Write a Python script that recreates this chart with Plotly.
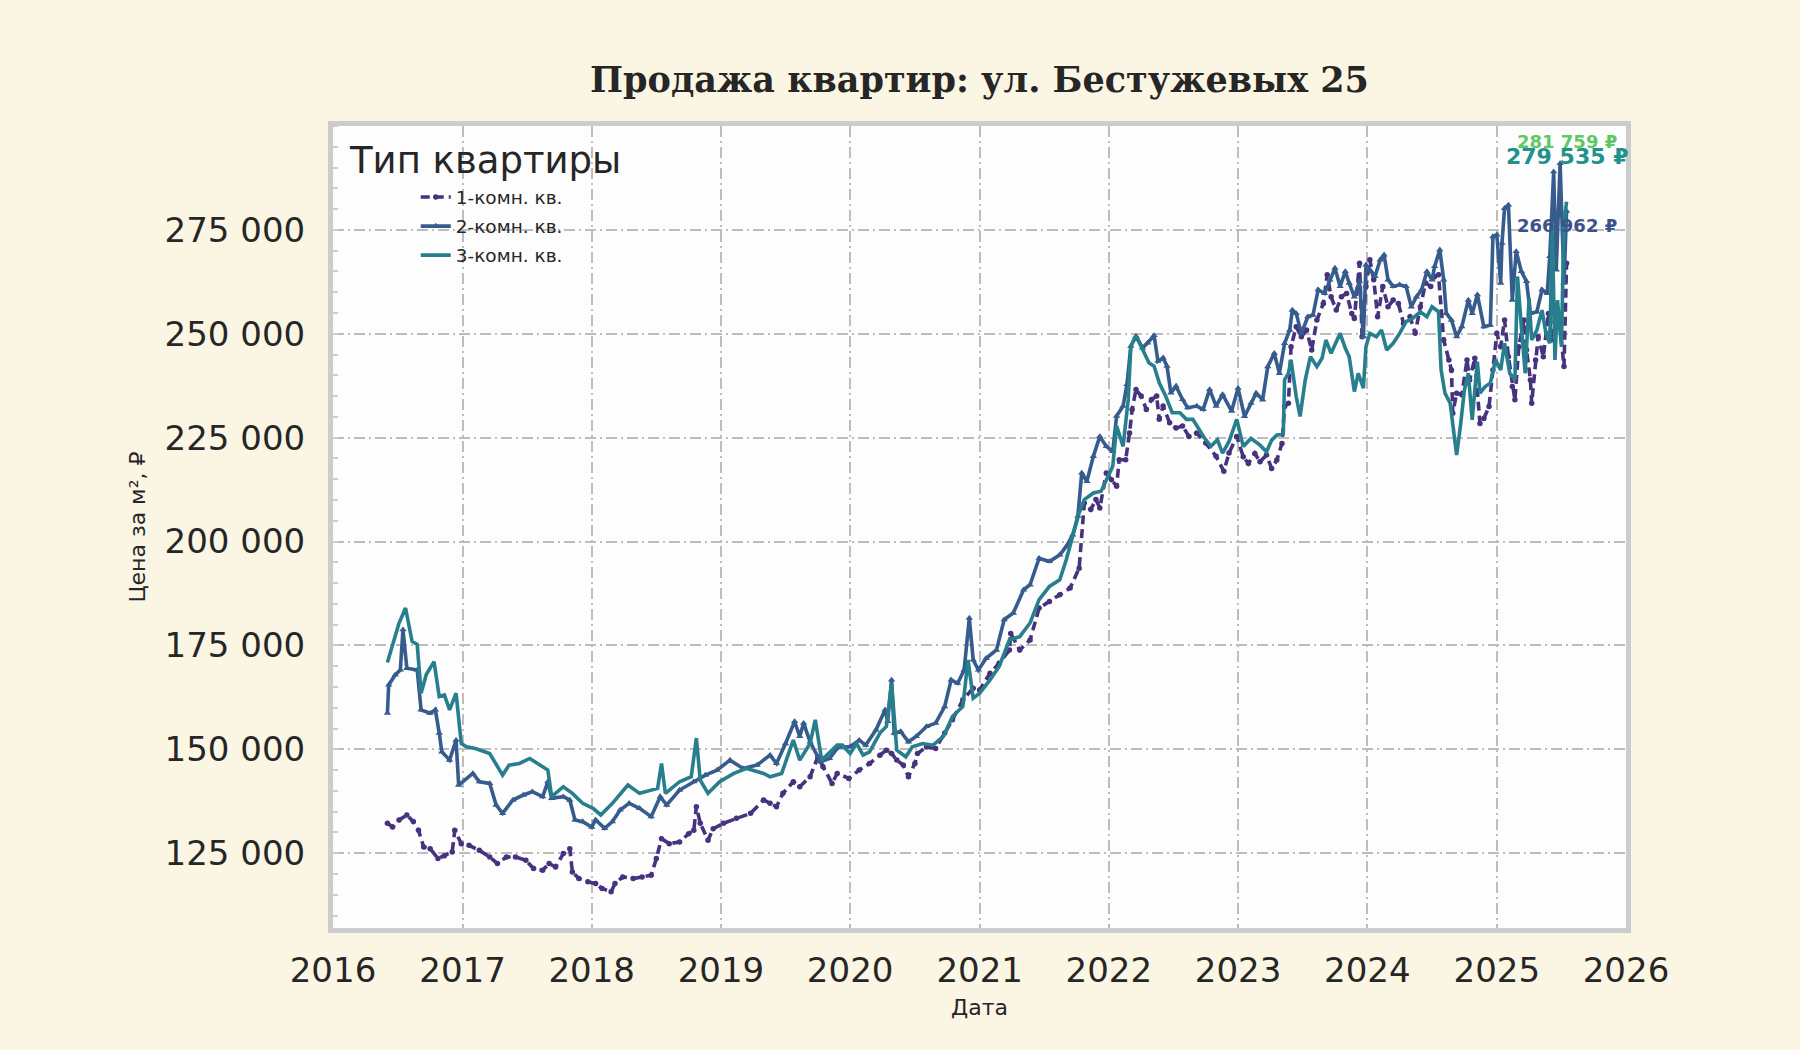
import pandas as pd
import plotly.graph_objects as go

# ---------------- data ----------------
series_names = ["1-комн. кв.", "2-комн. кв.", "3-комн. кв."]

years_1 = [2016.42, 2016.46, 2016.51, 2016.57, 2016.62, 2016.66, 2016.70, 2016.75, 2016.81, 2016.86,
           2016.92, 2016.94, 2016.99, 2017.05, 2017.13, 2017.21, 2017.27, 2017.34, 2017.41, 2017.49,
           2017.55, 2017.62, 2017.67, 2017.72, 2017.78, 2017.83, 2017.85, 2017.90, 2017.97, 2018.03,
           2018.08, 2018.15, 2018.18, 2018.24, 2018.32, 2018.39, 2018.46, 2018.50, 2018.54, 2018.60,
           2018.68, 2018.75, 2018.79, 2018.81, 2018.84, 2018.90, 2018.94, 2019.02, 2019.12, 2019.23,
           2019.33, 2019.38, 2019.43, 2019.48, 2019.56, 2019.61, 2019.69, 2019.75, 2019.79, 2019.86,
           2019.90, 2019.99, 2020.07, 2020.15, 2020.23, 2020.28, 2020.32, 2020.36, 2020.41, 2020.45,
           2020.50, 2020.52, 2020.59, 2020.66, 2020.73, 2020.79, 2020.87, 2020.95, 2021.00, 2021.08,
           2021.15, 2021.23, 2021.24, 2021.31, 2021.39, 2021.46, 2021.54, 2021.62, 2021.70, 2021.77,
           2021.81, 2021.86, 2021.90, 2021.93, 2021.98, 2022.02, 2022.06, 2022.08, 2022.13, 2022.16,
           2022.18, 2022.21, 2022.25, 2022.29, 2022.33, 2022.37, 2022.39, 2022.42, 2022.47, 2022.52,
           2022.57, 2022.62, 2022.68, 2022.75, 2022.83, 2022.89, 2022.93, 2022.99, 2023.04, 2023.08,
           2023.13, 2023.17, 2023.22, 2023.26, 2023.30, 2023.34, 2023.36, 2023.39, 2023.41, 2023.45,
           2023.49, 2023.53, 2023.57, 2023.61, 2023.66, 2023.69, 2023.72, 2023.76, 2023.80, 2023.84,
           2023.88, 2023.90, 2023.94, 2023.96, 2023.99, 2024.02, 2024.05, 2024.08, 2024.12, 2024.16,
           2024.20, 2024.24, 2024.28, 2024.33, 2024.37, 2024.41, 2024.45, 2024.49, 2024.52, 2024.55,
           2024.59, 2024.63, 2024.65, 2024.66, 2024.69, 2024.73, 2024.77, 2024.79, 2024.83, 2024.87,
           2024.90, 2024.94, 2024.97, 2025.00, 2025.03, 2025.06, 2025.09, 2025.12, 2025.14, 2025.17,
           2025.21, 2025.23, 2025.26, 2025.27, 2025.30, 2025.32, 2025.36, 2025.40, 2025.42, 2025.46,
           2025.49, 2025.52, 2025.54]
prices_1 = [132200, 131300, 133000, 134200, 132600, 130500, 126500, 126100, 123700, 124400,
            125300, 130500, 127300, 126900, 125700, 124100, 122500, 124100, 124100, 123300,
            121300, 120900, 122500, 121700, 124900, 126100, 120500, 118900, 118100, 117700,
            116500, 115700, 117700, 119300, 118900, 119300, 119700, 123700, 128500, 127300,
            127700, 129700, 130500, 136200, 132200, 128100, 130900, 132200, 133400, 134600,
            137800, 137000, 136200, 139400, 142200, 141000, 143400, 148200, 145800, 141800,
            144200, 143000, 145000, 146600, 148600, 149800, 149000, 147400, 146200, 143400,
            146600, 149000, 150600, 150200, 153900, 157100, 161900, 164700, 164300, 168300,
            170700, 173900, 177900, 173900, 176300, 184000, 185600, 187200, 188800, 193600,
            209300, 207700, 210100, 208100, 216500, 214900, 213300, 219700, 219700, 226100,
            231800, 236600, 235000, 231800, 234200, 235000, 229400, 232600, 228600, 227300,
            227800, 225300, 226100, 223700, 220500, 216900, 221300, 225300, 220400, 218800,
            221200, 219200, 220800, 217600, 219600, 223600, 232500, 233300, 246900, 251700,
            249300, 250900, 246100, 253300, 257300, 264200, 258900, 255700, 258900, 259700,
            254900, 253700, 267000, 249300, 261400, 267800, 263000, 254100, 261400, 256500,
            258100, 257300, 252500, 254100, 250100, 256500, 262200, 261400, 263800, 264200,
            248500, 243700, 241300, 230900, 235700, 235300, 243700, 238900, 244100, 228400,
            229600, 232500, 241300, 250100, 246900, 253300, 244500, 237300, 234100, 246900,
            253300, 246100, 238900, 233300, 243700, 249300, 244500, 254900, 248500, 255700,
            251700, 242100, 266962]

years_2 = [2016.42, 2016.43, 2016.48, 2016.52, 2016.54, 2016.57, 2016.65, 2016.68, 2016.75, 2016.79,
           2016.82, 2016.84, 2016.90, 2016.95, 2016.97, 2017.08, 2017.13, 2017.21, 2017.26, 2017.31,
           2017.39, 2017.47, 2017.54, 2017.62, 2017.66, 2017.69, 2017.78, 2017.83, 2017.87, 2017.93,
           2018.00, 2018.03, 2018.10, 2018.16, 2018.22, 2018.29, 2018.37, 2018.46, 2018.53, 2018.58,
           2018.68, 2018.79, 2018.88, 2018.97, 2019.07, 2019.17, 2019.28, 2019.38, 2019.43, 2019.50,
           2019.57, 2019.61, 2019.64, 2019.69, 2019.77, 2019.84, 2019.91, 2020.00, 2020.07, 2020.12,
           2020.20, 2020.27, 2020.29, 2020.32, 2020.34, 2020.39, 2020.45, 2020.51, 2020.59, 2020.66,
           2020.73, 2020.78, 2020.83, 2020.88, 2020.92, 2020.95, 2020.99, 2021.05, 2021.13, 2021.19,
           2021.26, 2021.34, 2021.39, 2021.46, 2021.54, 2021.62, 2021.67, 2021.72, 2021.76, 2021.79,
           2021.83, 2021.88, 2021.93, 2021.98, 2022.03, 2022.06, 2022.11, 2022.14, 2022.17, 2022.21,
           2022.26, 2022.30, 2022.35, 2022.38, 2022.42, 2022.45, 2022.48, 2022.52, 2022.57, 2022.61,
           2022.68, 2022.73, 2022.78, 2022.83, 2022.88, 2022.95, 2023.00, 2023.05, 2023.10, 2023.14,
           2023.19, 2023.23, 2023.28, 2023.32, 2023.36, 2023.40, 2023.42, 2023.45, 2023.49, 2023.54,
           2023.58, 2023.62, 2023.67, 2023.71, 2023.75, 2023.79, 2023.83, 2023.86, 2023.90, 2023.94,
           2023.97, 2023.99, 2024.02, 2024.06, 2024.10, 2024.13, 2024.16, 2024.20, 2024.25, 2024.30,
           2024.34, 2024.38, 2024.42, 2024.46, 2024.50, 2024.52, 2024.56, 2024.59, 2024.61, 2024.65,
           2024.69, 2024.73, 2024.78, 2024.81, 2024.85, 2024.90, 2024.95, 2024.97, 2025.00, 2025.03,
           2025.04, 2025.06, 2025.09, 2025.12, 2025.15, 2025.19, 2025.23, 2025.26, 2025.31, 2025.35,
           2025.39, 2025.41, 2025.44, 2025.46, 2025.49, 2025.52, 2025.54]
prices_2 = [158700, 165500, 167900, 169100, 178800, 169500, 169100, 159500, 158700, 159500,
            153900, 149400, 147400, 152200, 141400, 144200, 142200, 141800, 136600, 134600,
            137800, 139000, 139800, 138600, 142200, 138200, 138600, 137800, 133000, 132600,
            131300, 133000, 131000, 132600, 135400, 137000, 135800, 133800, 138600, 136600,
            140200, 142200, 143800, 145000, 147400, 145400, 146200, 148600, 146600, 151400,
            156700, 153100, 156300, 151800, 147000, 147800, 150600, 150600, 152200, 151000,
            154700, 159500, 156700, 166700, 153900, 154300, 151800, 153100, 155500, 156300,
            160300, 166700, 165900, 169100, 181600, 171500, 169100, 171900, 173900, 181200,
            182800, 188400, 189600, 196000, 195200, 196800, 198800, 201600, 206100, 216500,
            214500, 220500, 225300, 222900, 221700, 230200, 232600, 237800, 247000, 249400,
            246600, 247800, 249600, 243400, 244200, 242200, 235800, 237400, 234200, 232200,
            232600, 231800, 236600, 232600, 235400, 231400, 236900, 230100, 233300, 235700,
            234100, 242100, 245300, 240500, 247700, 250900, 255700, 254900, 250100, 254100,
            254500, 260600, 259700, 263000, 265800, 261400, 265000, 262200, 258900, 262600,
            249300, 266600, 265400, 263800, 267800, 269000, 263000, 261400, 261800, 261400,
            256500, 258900, 260600, 265000, 263000, 266200, 270200, 263000, 254900, 253300,
            249300, 251700, 258100, 254900, 259400, 251700, 252100, 273400, 273800, 262200,
            271800, 280200, 281000, 258100, 269800, 265000, 262600, 254900, 255300, 260600,
            259700, 268600, 289000, 265400, 291000, 262200, 279535]

years_3 = [2016.42, 2016.51, 2016.56, 2016.61, 2016.65, 2016.68, 2016.72, 2016.78, 2016.82, 2016.86,
           2016.90, 2016.95, 2016.99, 2017.03, 2017.10, 2017.21, 2017.31, 2017.36, 2017.44, 2017.52,
           2017.62, 2017.66, 2017.69, 2017.78, 2017.85, 2017.93, 2018.01, 2018.07, 2018.16, 2018.28,
           2018.37, 2018.45, 2018.51, 2018.54, 2018.57, 2018.68, 2018.77, 2018.81, 2018.84, 2018.90,
           2018.99, 2019.10, 2019.20, 2019.33, 2019.38, 2019.47, 2019.56, 2019.61, 2019.69, 2019.73,
           2019.78, 2019.90, 2019.94, 2020.00, 2020.05, 2020.10, 2020.15, 2020.23, 2020.28, 2020.32,
           2020.36, 2020.43, 2020.48, 2020.56, 2020.64, 2020.72, 2020.79, 2020.87, 2020.91, 2020.95,
           2021.00, 2021.08, 2021.15, 2021.23, 2021.31, 2021.39, 2021.46, 2021.54, 2021.62, 2021.67,
           2021.73, 2021.77, 2021.81, 2021.88, 2021.94, 2021.99, 2022.03, 2022.06, 2022.11, 2022.15,
           2022.17, 2022.21, 2022.26, 2022.31, 2022.35, 2022.39, 2022.44, 2022.49, 2022.55, 2022.60,
           2022.65, 2022.70, 2022.74, 2022.79, 2022.84, 2022.88, 2022.93, 2022.99, 2023.04, 2023.10,
           2023.17, 2023.22, 2023.26, 2023.30, 2023.35, 2023.36, 2023.39, 2023.41, 2023.45, 2023.48,
           2023.52, 2023.56, 2023.61, 2023.65, 2023.68, 2023.72, 2023.79, 2023.83, 2023.86, 2023.90,
           2023.93, 2023.97, 2023.99, 2024.02, 2024.07, 2024.11, 2024.15, 2024.20, 2024.25, 2024.30,
           2024.35, 2024.41, 2024.46, 2024.50, 2024.55, 2024.57, 2024.60, 2024.64, 2024.68, 2024.69,
           2024.72, 2024.75, 2024.78, 2024.81, 2024.85, 2024.87, 2024.91, 2024.95, 2024.99, 2025.03,
           2025.06, 2025.10, 2025.14, 2025.16, 2025.19, 2025.22, 2025.25, 2025.27, 2025.31, 2025.35,
           2025.38, 2025.41, 2025.43, 2025.45, 2025.47, 2025.50, 2025.52, 2025.54]
prices_3 = [170900, 180400, 184000, 176000, 175200, 163500, 168000, 171100, 162700, 163100,
            159500, 163500, 151400, 150600, 150200, 149000, 143800, 146200, 146600, 147800,
            145800, 145000, 138600, 141000, 139400, 137000, 135800, 134200, 137000, 141400,
            139400, 140200, 140600, 146600, 139400, 142200, 143400, 152700, 142600, 139400,
            142200, 144200, 145400, 144200, 143400, 144200, 152200, 147400, 151400, 157100,
            147400, 151000, 151000, 149000, 151400, 148600, 149400, 153900, 155500, 165900,
            149800, 148200, 150600, 151400, 151000, 153100, 157900, 160300, 171500, 162300,
            163500, 166700, 169900, 176300, 177100, 180400, 186000, 189200, 190800, 195600,
            202000, 206900, 210100, 211700, 212100, 215700, 218100, 227800, 222900, 234200,
            247000, 249600, 246200, 243000, 242200, 238200, 235000, 231000, 231000, 229400,
            229400, 226900, 224900, 222900, 224500, 221300, 224100, 229400, 222900, 224800,
            223200, 221600, 224400, 225600, 226000, 238900, 240500, 243700, 234900, 230100,
            238900, 244500, 242100, 244100, 248500, 245300, 250100, 246500, 244500, 236100,
            240500, 236900, 246900, 250100, 249300, 250900, 246100, 247700, 250100, 252900,
            253700, 255300, 254100, 256500, 255300, 241300, 235700, 233300, 224400, 220800,
            228000, 236500, 240500, 229300, 243300, 235700, 237300, 238100, 243700, 241300,
            247700, 240500, 238900, 263800, 251700, 240500, 258500, 248500, 250900, 255700,
            250100, 247700, 275000, 243700, 258100, 246900, 276600, 281759]

last_labels = ["266 962 ₽", "279 535 ₽", "281 759 ₽"]

y_tick_values = [125000, 150000, 175000, 200000, 225000, 250000, 275000]
y_tick_labels = ["125 000", "150 000", "175 000", "200 000", "225 000", "250 000", "275 000"]
x_tick_years = [2016, 2017, 2018, 2019, 2020, 2021, 2022, 2023, 2024, 2025, 2026]
x_tick_labels = [str(y) for y in x_tick_years]


# ---------------- helpers ----------------
def to_dates(years):
    out = []
    for y in years:
        base = pd.Timestamp(year=int(y), month=1, day=1)
        nxt = pd.Timestamp(year=int(y) + 1, month=1, day=1)
        out.append(base + (nxt - base) * (y - int(y)))
    return out


line_colors = ["#46327e", "#365c8d", "#277f8e"]
label_colors = ["#3b528b", "#21918c", "#5ec962"]
label_sizes = [18, 22, 18]
label_shift = [38, 55, 60]
TXT = "#262626"
FONT = "DejaVu Sans, Verdana, sans-serif"

fig = go.Figure()

fig.add_trace(go.Scatter(
    x=to_dates(years_1), y=prices_1, name=series_names[0], legendgroup="g1",
    mode="lines+markers",
    line=dict(color=line_colors[0], width=3.6, dash="9px,5px"),
    marker=dict(symbol="circle", size=5.5, color=line_colors[0]),
))
fig.add_trace(go.Scatter(
    x=to_dates(years_2), y=prices_2, name=series_names[1], legendgroup="g2",
    mode="lines+markers",
    line=dict(color=line_colors[1], width=3.6),
    marker=dict(symbol="triangle-up", size=6.5, color=line_colors[1]),
))
fig.add_trace(go.Scatter(
    x=to_dates(years_3), y=prices_3, name=series_names[2], legendgroup="g3",
    mode="lines",
    line=dict(color=line_colors[2], width=3.6),
))

# value labels at the series ends
ends = [(years_1, prices_1), (years_2, prices_2), (years_3, prices_3)]
for i, (yrs, prs) in enumerate(ends):
    fig.add_annotation(
        x=to_dates([yrs[-1]])[0], y=prs[-1], xref="x", yref="y",
        text="<b>" + last_labels[i] + "</b>", showarrow=False,
        xanchor="center", yanchor="middle", yshift=label_shift[i],
        font=dict(family=FONT, size=label_sizes[i], color=label_colors[i]),
    )

# legend title
fig.add_annotation(
    x=0.0110, y=0.9576, xref="paper", yref="paper", text="Тип квартиры",
    showarrow=False, xanchor="left", yanchor="middle",
    font=dict(family=FONT, size=37, color=TXT),
)

grid = dict(showgrid=True, gridcolor="#bdbdbd", gridwidth=2.4, griddash="11px,4px,2px,4px")

fig.update_layout(
    width=1800, height=1050,
    margin=dict(l=333, r=174, t=126, b=122),
    paper_bgcolor="#fbf5e3",
    plot_bgcolor="#fdfdfd",
    font=dict(family=FONT, color=TXT),
    title=dict(
        text="<b>Продажа квартир: ул. Бестужевых 25</b>",
        x=0.5, xref="paper", xanchor="center",
        y=1 - 80 / 1050, yref="container", yanchor="middle",
        font=dict(family="DejaVu Serif, serif", size=35, color=TXT),
    ),
    showlegend=True,
    legend=dict(
        x=0.064, y=0.9345, xanchor="left", yanchor="top",
        bgcolor="rgba(0,0,0,0)", borderwidth=0,
        font=dict(family=FONT, size=18.5, color=TXT),
        tracegroupgap=2,
    ),
    xaxis=dict(
        type="date",
        range=[pd.Timestamp("2016-01-01"), pd.Timestamp("2026-01-01")],
        tickmode="array",
        tickvals=[pd.Timestamp(year=y, month=1, day=1) for y in x_tick_years],
        ticktext=x_tick_labels,
        tickfont=dict(family=FONT, size=34, color=TXT),
        ticks="outside", ticklen=8, tickcolor="rgba(0,0,0,0)",
        showline=True, linecolor="#cccccc", linewidth=5, mirror=True,
        zeroline=False,
        title=dict(text="Дата", font=dict(family=FONT, size=22, color=TXT), standoff=12),
        **grid,
    ),
    yaxis=dict(
        range=[107000, 300000],
        tickmode="array", tickvals=y_tick_values, ticktext=y_tick_labels,
        tickfont=dict(family=FONT, size=34, color=TXT),
        ticks="outside", ticklen=16, tickcolor="rgba(0,0,0,0)",
        showline=True, linecolor="#cccccc", linewidth=5, mirror=True,
        zeroline=False,
        minor=dict(tickmode="linear", tick0=0, dtick=5000, ticks="inside",
                   ticklen=5, tickwidth=2, tickcolor="#cccccc", showgrid=False),
        title=dict(text="Цена за м², ₽", font=dict(family=FONT, size=22, color=TXT), standoff=14),
        **grid,
    ),
)

fig.write_html(
    "out.html",
    config={"displayModeBar": False},
    post_script="document.body.style.margin='0';document.body.style.overflow='hidden';"
                "document.body.style.background='#fbf5e3';",
)
